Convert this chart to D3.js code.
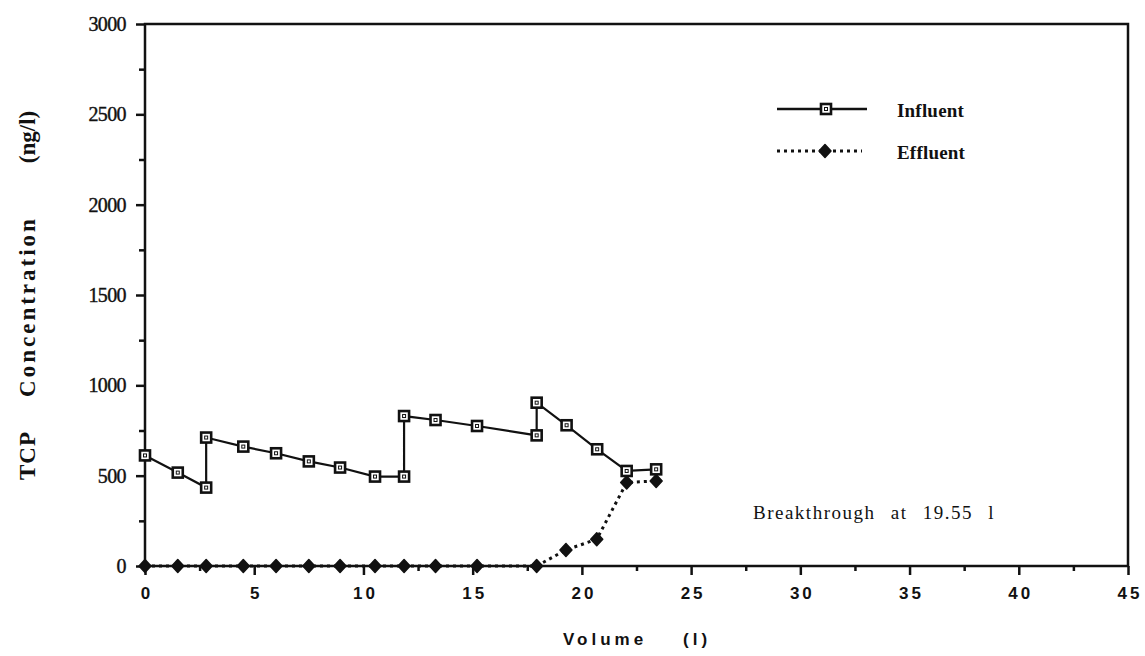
<!DOCTYPE html>
<html>
<head>
<meta charset="utf-8">
<script src="https://cdn.jsdelivr.net/npm/d3@7"></script>
<style>
  html, body { margin: 0; padding: 0; background: #fff; }
  svg { display: block; }
</style>
</head>
<body>
<svg id="chart" width="1145" height="656"></svg>
<script>
// Influent: volume (l) vs TCP concentration (ng/l)
const influentVolume = [0, 1.5, 2.8, 2.8, 4.5, 6.0, 7.5, 8.93, 10.53, 11.86, 11.86, 13.3, 15.2, 17.93, 17.93, 19.3, 20.7, 22.05, 23.4];
const influentConc   = [612, 517, 434, 711, 661, 624, 579, 545, 495, 495, 830, 808, 775, 723, 904, 779, 646, 526, 535];

// Effluent: volume (l) vs TCP concentration (ng/l)
const effluentVolume = [0, 1.5, 2.8, 4.5, 6.0, 7.5, 8.93, 10.53, 11.86, 13.3, 15.2, 17.93, 19.27, 20.68, 22.05, 23.4];
const effluentConc   = [0, 0, 0, 0, 0, 0, 0, 0, 0, 0, 0, 0, 89, 148, 462, 471];

const xTicks = [0, 5, 10, 15, 20, 25, 30, 35, 40, 45];
const yTicks = [0, 500, 1000, 1500, 2000, 2500, 3000];
const seriesNames = ["Influent", "Effluent"];
const note = "Breakthrough at 19.55 l";

const svg = d3.select("#chart");
const L = 145, R = 1128, T = 24, B = 566;

const x = d3.scaleLinear().domain([0, 45]).range([L, R]);
const y = d3.scaleLinear().domain([0, 3000]).range([B, T]);

const ink = "#111";
const serif = "'Liberation Serif', 'Times New Roman', serif";
const sans = "'Liberation Sans', Arial, sans-serif";

// Frame
svg.append("rect")
  .attr("x", L).attr("y", T).attr("width", R - L).attr("height", B - T)
  .attr("fill", "none").attr("stroke", ink).attr("stroke-width", 2.5);

// X axis: major ticks every 5, minor every 2.5
const xAxis = d3.axisBottom(x).tickValues(xTicks).tickSize(9).tickPadding(12).tickFormat(d3.format("d"));
const gx = svg.append("g").attr("transform", `translate(0,${B})`).call(xAxis);
gx.select(".domain").remove();
gx.selectAll(".tick line").attr("stroke", ink).attr("stroke-width", 2.5);
gx.selectAll(".tick text")
  .attr("fill", ink)
  .attr("dx", "1.5px")
  .style("font-family", sans)
  .style("font-size", "17px").style("font-weight", "bold")
  .style("letter-spacing", "3px");
const gxm = svg.append("g").attr("transform", `translate(0,${B})`)
  .call(d3.axisBottom(x).tickValues(d3.range(2.5, 45, 5)).tickSize(5).tickFormat(""));
gxm.select(".domain").remove();
gxm.selectAll(".tick line").attr("stroke", ink).attr("stroke-width", 2.5);

// Y axis: major ticks every 500, minor every 250
const yAxis = d3.axisLeft(y).tickValues(yTicks).tickSize(9).tickPadding(10).tickFormat(d3.format("d"));
const gy = svg.append("g").attr("transform", `translate(${L},0)`).call(yAxis);
gy.select(".domain").remove();
gy.selectAll(".tick line").attr("stroke", ink).attr("stroke-width", 2.5);
gy.selectAll(".tick text")
  .attr("fill", ink)
  .attr("stroke", ink).attr("stroke-width", 0.4)
  .style("font-family", serif)
  .style("font-size", "20px")
  .style("letter-spacing", "-0.6px");
const gym = svg.append("g").attr("transform", `translate(${L},0)`)
  .call(d3.axisLeft(y).tickValues(d3.range(250, 3000, 500)).tickSize(6).tickFormat(""));
gym.select(".domain").remove();
gym.selectAll(".tick line").attr("stroke", ink).attr("stroke-width", 2.5);

// X axis title
const xTitle = svg.append("text")
  .attr("y", 645).attr("fill", ink)
  .style("font-family", sans)
  .style("font-size", "17px").style("font-weight", "bold")
  .style("letter-spacing", "4px");
xTitle.append("tspan").attr("x", 563).text("Volume");
xTitle.append("tspan").attr("x", 683).text("(l)");

// Y axis title, set as three spaced words
const yWords = [
  { t: "TCP", c: 456, ls: 1 },
  { t: "Concentration", c: 308, ls: 3 },
  { t: "(ng/l)", c: 137, ls: 0 }
];
yWords.forEach(w => {
  svg.append("text")
    .attr("transform", `translate(35,${w.c}) rotate(-90)`)
    .attr("text-anchor", "middle").attr("fill", ink)
    .attr("dx", w.ls / 2)
    .style("font-family", serif)
    .style("font-size", "23px").style("font-weight", "bold")
    .style("letter-spacing", w.ls + "px")
    .text(w.t);
});

// Series lines
const influentPts = influentVolume.map((v, i) => [v, influentConc[i]]);
const effluentPts = effluentVolume.map((v, i) => [v, effluentConc[i]]);
const line = d3.line().x(d => x(d[0])).y(d => y(d[1]));

svg.append("path").datum(effluentPts).attr("d", line)
  .attr("fill", "none").attr("stroke", ink).attr("stroke-width", 3)
  .attr("stroke-dasharray", "3,4");

svg.append("path").datum(influentPts).attr("d", line)
  .attr("fill", "none").attr("stroke", ink).attr("stroke-width", 2.2);

// Markers
function drawSquare(g, cx, cy) {
  g.append("rect").attr("x", cx - 5).attr("y", cy - 5).attr("width", 10).attr("height", 10)
    .attr("fill", "#fff").attr("stroke", ink).attr("stroke-width", 2.6);
  g.append("rect").attr("x", cx - 1.5).attr("y", cy - 1.5).attr("width", 3).attr("height", 3)
    .attr("fill", "none").attr("stroke", ink).attr("stroke-width", 1);
}
function drawDiamond(g, cx, cy) {
  g.append("path")
    .attr("d", `M${cx},${cy - 6.5}L${cx + 6},${cy}L${cx},${cy + 6.5}L${cx - 6},${cy}Z`)
    .attr("fill", ink).attr("stroke", ink).attr("stroke-width", 1.5).attr("stroke-linejoin", "round");
}

const effG = svg.append("g");
effluentPts.forEach(d => drawDiamond(effG, x(d[0]), y(d[1])));
const infG = svg.append("g");
influentPts.forEach(d => drawSquare(infG, x(d[0]), y(d[1])));

// Legend
const legend = svg.append("g");
legend.append("line").attr("x1", 777).attr("x2", 867).attr("y1", 109).attr("y2", 109)
  .attr("stroke", ink).attr("stroke-width", 2.5);
drawSquare(legend, 826, 109);
legend.append("line").attr("x1", 777).attr("x2", 862).attr("y1", 151).attr("y2", 151)
  .attr("stroke", ink).attr("stroke-width", 3).attr("stroke-dasharray", "3,4");
drawDiamond(legend, 825, 151);
legend.selectAll("text.lbl").data(seriesNames).enter().append("text")
  .attr("class", "lbl")
  .attr("x", 897).attr("y", (d, i) => 117 + i * 42)
  .attr("fill", ink)
  .style("font-family", serif)
  .style("font-size", "19px").style("font-weight", "bold")
  .style("letter-spacing", "0.2px")
  .text(d => d);

// Breakthrough note
svg.append("text")
  .attr("x", 753).attr("y", 519).attr("fill", ink)
  .style("font-family", serif)
  .style("font-size", "19px")
  .style("letter-spacing", "1.5px")
  .style("word-spacing", "9px")
  .text(note);
</script>
</body>
</html>
